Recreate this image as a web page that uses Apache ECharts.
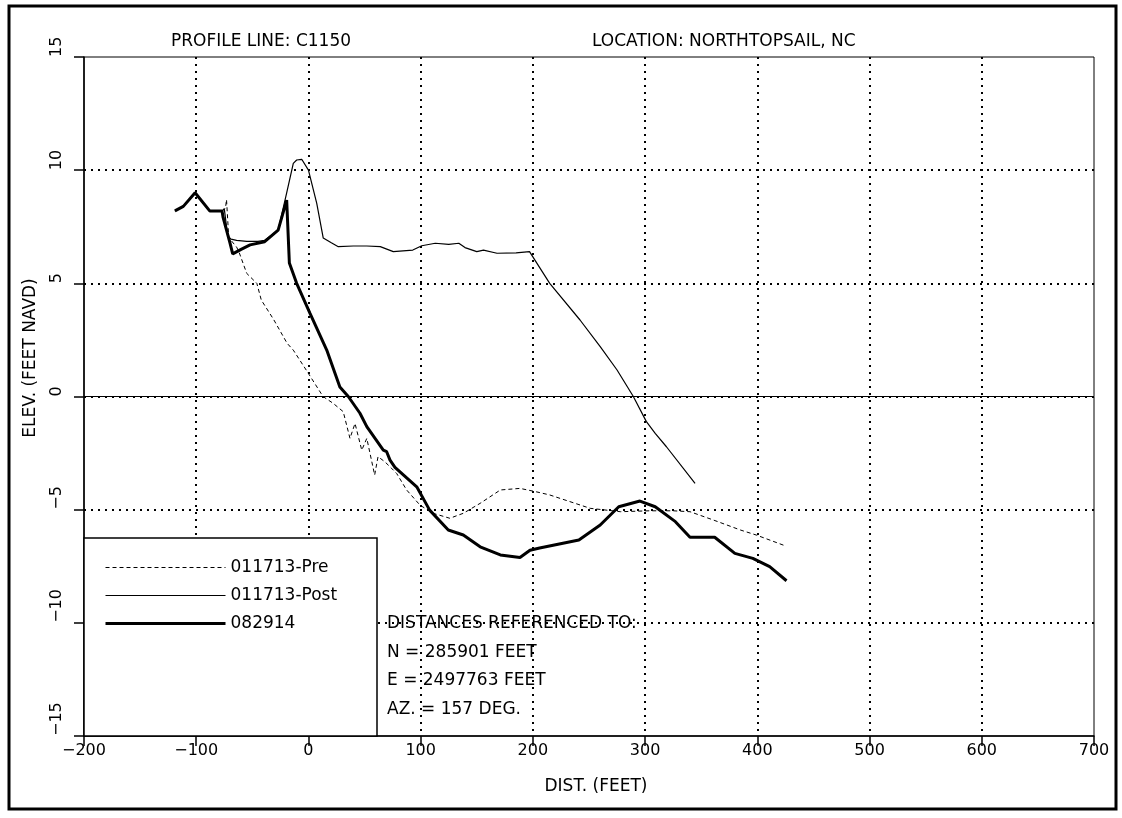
<!DOCTYPE html>
<html>
<head>
<meta charset="utf-8">
<script src="https://cdn.jsdelivr.net/npm/echarts@6/dist/echarts.min.js"></script>
<style>
html,body{margin:0;padding:0;background:#fff;}
#chart{width:1122px;height:818px;}
</style>
</head>
<body>
<div id="chart"></div>
<script>
// ---- data ----
const preDist  = [-119,-111.5,-101,-88,-77,-74,-73,-71,-69,-64,-62,-55,-46,-42,-31,-19,-13.5,-2,13,22,31,37,41.5,47.5,52,59,62,68,74,78.6,87.5,99.4,111,126,138,153,171,188.5,203,215,251,278,304,325,340,361,385,399,425];
const preElev  = [8.2,8.4,9.0,8.2,8.2,8.3,8.7,7.0,6.9,6.6,6.4,5.44,5.0,4.26,3.4,2.35,2.05,1.17,0.0,-0.3,-0.67,-1.85,-1.19,-2.37,-1.85,-3.47,-2.66,-2.88,-3.17,-3.4,-4.13,-4.8,-5.16,-5.38,-5.16,-4.72,-4.13,-4.06,-4.21,-4.35,-4.94,-5.09,-5.05,-5.05,-5.09,-5.46,-5.9,-6.12,-6.6];

const postDist = [-119,-111.5,-101,-88,-77,-75,-72,-69,-64,-55,-45,-39,-27,-19.4,-13.5,-10.5,-6,0,7.4,13.2,20,26.6,40,52,64,75.6,93,101,113,125,134,139.5,150,156,168,185,197,215,242,260,275,289.5,301,309,319,344.5];
const postElev = [8.2,8.4,9.0,8.2,8.2,8.3,7.1,6.95,6.9,6.85,6.85,6.9,7.35,9.0,10.3,10.45,10.48,10.0,8.53,7.0,6.8,6.62,6.65,6.65,6.62,6.4,6.47,6.66,6.77,6.72,6.77,6.58,6.4,6.47,6.33,6.35,6.4,5.0,3.38,2.2,1.17,0.0,-1.1,-1.63,-2.22,-3.84];

const augDist  = [-119,-111.5,-101,-88,-77,-76,-70,-67.5,-60,-52,-39,-27,-19.4,-17,-10.5,1.4,16.3,28,35.5,45.9,52,66.7,69.7,72.7,77.1,96.5,108,124.6,138,153,171,188.5,197.4,206,241,260,276.5,295.4,309,327,340,362,380,396,411,426];
const augElev  = [8.2,8.4,9.0,8.2,8.2,7.9,6.8,6.3,6.5,6.7,6.84,7.35,8.68,5.9,5.0,3.67,2.05,0.42,0.0,-0.74,-1.33,-2.37,-2.44,-2.81,-3.13,-3.99,-5.02,-5.9,-6.12,-6.64,-7.0,-7.11,-6.79,-6.69,-6.34,-5.68,-4.87,-4.62,-4.87,-5.53,-6.22,-6.22,-6.93,-7.15,-7.52,-8.14];

const seriesNames = ['011713-Pre','011713-Post','082914'];
const xTicks = {min:-200, max:700, interval:100};
const yTicks = {min:-15, max:15, interval:5};
const zeroLine = [0];
const titleLeft = 'PROFILE LINE: C1150';
const titleRight = 'LOCATION: NORTHTOPSAIL, NC';
const yName = 'ELEV. (FEET NAVD)';
const xName = 'DIST. (FEET)';
const noteLines = ['DISTANCES REFERENCED TO:','N = 285901 FEET','E = 2497763 FEET','AZ. = 157 DEG.'];

// ---- build ----
const zip = (a,b) => a.map((v,i)=>[v,b[i]]);
const FONT = 'DejaVu Sans';
const minusFmt = v => String(v).replace('-', '\u2212');

const styles = [
  {color:'#000', width:1, type:[4,3]},
  {color:'#000', width:1.2, type:'solid'},
  {color:'#000', width:3, type:'solid'}
];

const chart = echarts.init(document.getElementById('chart'), null, {renderer:'canvas'});

const gridDot = {color:'#000', width:2, type:[2,5]};

const option = {
  animation:false,
  backgroundColor:'#fff',
  grid:{left:84, right:28, top:57, bottom:82, show:true, borderColor:'#000', borderWidth:1, backgroundColor:'transparent'},
  xAxis:{
    type:'value', min:xTicks.min, max:xTicks.max, interval:xTicks.interval,
    axisLine:{show:true, onZero:false, lineStyle:{color:'#000', width:1.5}},
    axisTick:{show:true, inside:false, length:10, lineStyle:{color:'#000', width:1.5}},
    axisLabel:{color:'#000', fontFamily:FONT, fontSize:16, margin:7, formatter:minusFmt, showMinLabel:true, showMaxLabel:true},
    splitLine:{show:true, showMinLine:false, showMaxLine:false, lineStyle:gridDot}
  },
  yAxis:{
    type:'value', min:yTicks.min, max:yTicks.max, interval:yTicks.interval,
    axisLine:{show:true, onZero:false, lineStyle:{color:'#000', width:1.5}},
    axisTick:{show:true, inside:false, length:10, lineStyle:{color:'#000', width:1.5}},
    axisLabel:{color:'#000', fontFamily:FONT, fontSize:16, margin:27, rotate:90, align:'left', verticalAlign:'middle', formatter:minusFmt, showMinLabel:true, showMaxLabel:true},
    splitLine:{show:true, showMinLine:false, showMaxLine:false, lineStyle:gridDot}
  },
  legend:{
    show:true, orient:'vertical', left:104, top:559, z:10, padding:0,
    itemWidth:120, itemHeight:17, itemGap:11,
    itemStyle:{opacity:0},
    data:seriesNames.map((n,i)=>({name:n, itemStyle:{opacity:0}, lineStyle:{width:styles[i].width, type:styles[i].type, color:'#000', opacity:1}})),
    textStyle:{color:'#000', fontFamily:FONT, fontSize:17},
    selectedMode:false
  },
  series:[
    {name:seriesNames[0], type:'line', data:zip(preDist,preElev), symbol:'none', showSymbol:false,
     lineStyle:styles[0], itemStyle:{color:'#000'}, z:3},
    {name:seriesNames[1], type:'line', data:zip(postDist,postElev), symbol:'none', showSymbol:false,
     lineStyle:styles[1], itemStyle:{color:'#000'}, z:3,
     markLine:{silent:true, symbol:'none', label:{show:false}, animation:false,
       lineStyle:{color:'#000', width:1, type:'solid'},
       data:zeroLine.map(v=>({yAxis:v}))}},
    {name:seriesNames[2], type:'line', data:zip(augDist,augElev), symbol:'none', showSymbol:false,
     lineStyle:styles[2], itemStyle:{color:'#000'}, z:4}
  ],
  graphic:[
    {type:'rect', z:1, silent:true, shape:{x:9, y:6, width:1107, height:803}, style:{fill:null, stroke:'#000', lineWidth:3}},
    {type:'rect', z:5, silent:true, shape:{x:84, y:538, width:293, height:198}, style:{fill:'#fff', stroke:'#000', lineWidth:1.5}},
    {type:'text', z:6, silent:true, x:171, y:42, style:{text:titleLeft, fill:'#000', font:'17px "DejaVu Sans"', align:'left', verticalAlign:'middle'}},
    {type:'text', z:6, silent:true, x:592, y:42, style:{text:titleRight, fill:'#000', font:'17px "DejaVu Sans"', align:'left', verticalAlign:'middle'}},
    {type:'text', z:6, silent:true, x:31, y:358, rotation:Math.PI/2, style:{text:yName, fill:'#000', font:'17px "DejaVu Sans"', align:'center', verticalAlign:'middle'}},
    {type:'text', z:6, silent:true, x:596, y:787, style:{text:xName, fill:'#000', font:'17px "DejaVu Sans"', align:'center', verticalAlign:'middle'}},
    ...noteLines.map((t,i)=>({type:'text', z:6, silent:true, x:387, y:[624,653,681,710][i],
      style:{text:t, fill:'#000', font:'17px "DejaVu Sans"', align:'left', verticalAlign:'middle'}}))
  ]
};
chart.setOption(option);
</script>
</body>
</html>
